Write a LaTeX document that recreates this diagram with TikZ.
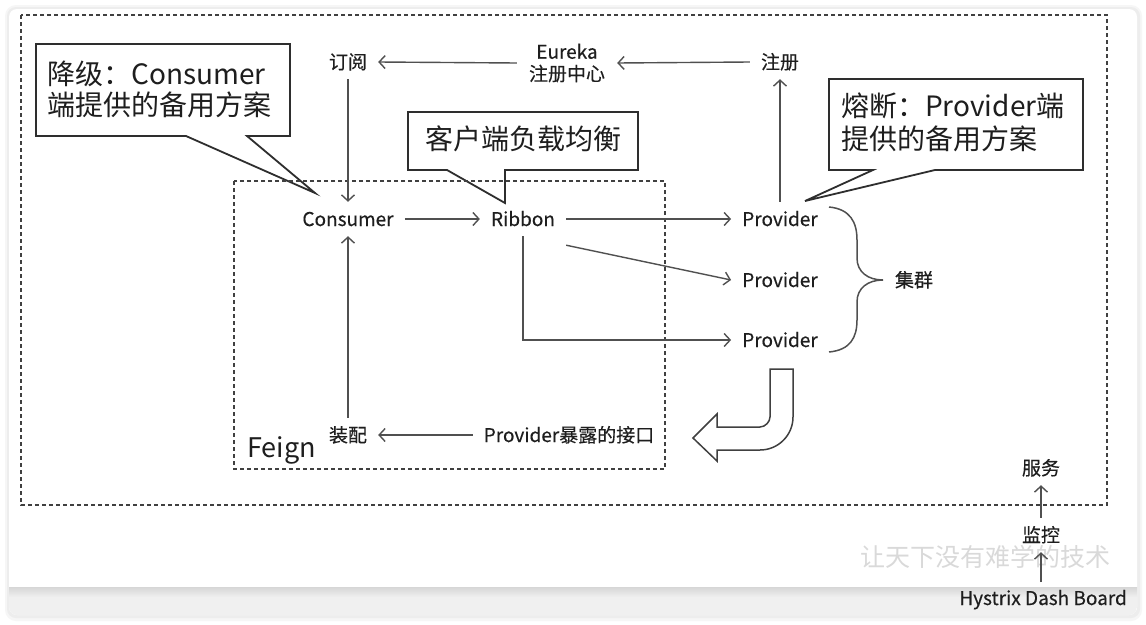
\documentclass[tikz,border=0pt]{standalone}
\usepackage{fontspec}
\setmainfont{Noto Sans CJK SC}
\newfontfamily\labelfont{Noto Sans CJK SC}[FakeBold=0.35]
\usetikzlibrary{arrows.meta,calc}
\definecolor{ink}{HTML}{1E1E1E}
\definecolor{linec}{HTML}{505050}
\definecolor{boxc}{HTML}{2E2E2E}
\begin{document}
\begin{tikzpicture}[x=1pt,y=-1pt,
  lbl/.style={font=\labelfont\fontsize{19}{22}\selectfont, text=ink, inner xsep=11pt, inner ysep=9pt, text height=15pt, text depth=1pt},
  conn/.style={draw=linec, line width=1.4pt, -{Straight Barb[length=6pt,width=13pt]}},
  dashbox/.style={draw=black!75, line width=1.3pt, dash pattern=on 4pt off 3pt},
  callout/.style={draw=boxc, fill=white, line width=1.8pt, line join=miter},
  calltext/.style={font=\fontsize{28}{31}\selectfont, text=ink, inner sep=0pt},
]
\useasboundingbox (0,0) rectangle (1146,624);
% background panel
\fill[white] (0,0) rectangle (1146,624);
\fill[gray!7, rounded corners=11] (5,5) rectangle (1142,621);
\fill[gray!14, rounded corners=9] (7,7) rectangle (1140,618);
\fill[white, rounded corners=8] (9,9) rectangle (1137,615);
\begin{scope}
  \clip[rounded corners=8] (9,9) rectangle (1137,615);
  \fill[gray!12] (9,587) rectangle (1137,615);
  \shade[top color=gray!32, bottom color=gray!12] (9,587) rectangle (1137,597);
\end{scope}
% outer dashed frame
\draw[dashbox] (21,15) rectangle (1107,505);
% watermark
\node[font=\fontsize{25}{25}\selectfont, text=gray!30, inner sep=0pt] (wm) at (985,557) {让天下没有难学的技术};
% callouts
\draw[callout] (36,44) -- (290,44) -- (290,136) -- (247,136) -- (315,193) -- (186,136) -- (36,136) -- cycle;
\draw[callout] (408,112) -- (638,112) -- (638,170) -- (505,170) -- (505,203) -- (447,170) -- (408,170) -- cycle;
\draw[callout] (829,79) -- (1083,79) -- (1083,170) -- (935,170) -- (805,201) -- (873,170) -- (829,170) -- cycle;
\node[calltext, align=left, anchor=west] (c1) at (47,89) {降级：Consumer\\端提供的备用方案};
\node[calltext] (c2) at (523,139) {客户端负载均衡};
\node[calltext, align=left, anchor=west, font=\fontsize{28}{33}\selectfont] (c3) at (841,122) {熔断：Provider端\\提供的备用方案};
% Feign frame
\draw[dashbox] (234,181) rectangle (665,469);
\node[font=\fontsize{27}{30}\selectfont, text=ink, anchor=base west, inner sep=0pt] (feign) at (247,457) {Feign};
% labels
\node[lbl] (dy) at (348,62) {订阅};
\node[font=\labelfont\fontsize{19}{22}\selectfont, text=ink, align=center, inner xsep=12pt, inner ysep=2pt] (eu) at (567,63) {Eureka\\注册中心};
\node[lbl] (zc) at (780,62) {注册};
\node[lbl] (con) at (348,219) {Consumer};
\node[lbl] (rib) at (523,219) {Ribbon};
\node[lbl] (p1) at (780,219) {Provider};
\node[lbl] (p2) at (780,280) {Provider};
\node[lbl] (p3) at (780,340) {Provider};
\node[lbl] (jq) at (914,280) {集群};
\node[lbl] (zp) at (348,435) {装配};
\node[lbl] (pi) at (569,435) {Provider暴露的接口};
\node[lbl] (fw) at (1041,468) {服务};
\node[lbl] (jk) at (1041,535) {监控};
\coordinate (hb) at (1041,582);
\node[font=\labelfont\fontsize{19}{22}\selectfont, text=ink, anchor=base east, inner sep=0pt] (hdb) at (1127,605) {Hystrix Dash Board};
% connectors
\draw[conn] (eu.west) -- (dy.east);
\draw[conn] (zc.west) -- (eu.east);
\draw[conn] (p1.north) -- (zc.south);
\draw[conn] (dy.south) -- (con.north);
\draw[conn] (con.east) -- (rib.west);
\draw[conn] (rib.east) -- (p1.west);
\draw[conn] ([shift={(0,9)}]rib.south east) -- (p2.west);
\draw[conn] (rib.south) |- (p3.west);
\draw[conn] (zp.north) -- (con.south);
\draw[conn] (pi.west) -- (zp.east);
\draw[conn] (jk.north) -- (fw.south);
\draw[conn] (hb) -- (jk.south);
% brace
\draw[linec, line width=1.5pt] (829,207) .. controls (850,209) and (857,222) .. (857,240) -- (857,258) .. controls (857,272) and (868,280) .. (883,280)
  .. controls (868,280) and (857,288) .. (857,302) -- (857,320) .. controls (857,338) and (850,350) .. (829,352);
% U-turn arrow
\draw[fill=white, draw=black!75, line width=1.5pt, line join=miter] (770,369) -- (793,369) -- (793,417) .. controls (793,435.2) and (778.2,450) .. (760,450) -- (717,450) -- (717,461) -- (693,438) -- (717,414) -- (717,427) -- (760,427) .. controls (765.5,427) and (770,421.5) .. (770,417) -- cycle;
\end{tikzpicture}
\end{document}
